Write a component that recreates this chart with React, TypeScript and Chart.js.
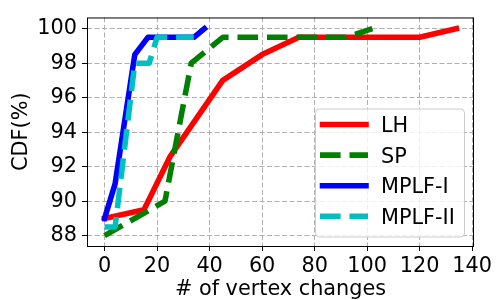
import React, { useEffect, useRef } from "react";
import { Chart, registerables } from "chart.js";

Chart.register(...registerables);

const seriesNames = ["LH", "SP", "MPLF-I", "MPLF-II"];
const seriesColors = ["#ff0000", "#008000", "#0000ff", "#00bfbf"];
const seriesDashed = [false, true, false, true];

const lhX = [0, 15, 25, 45, 60, 74, 120, 134];
const lhY = [89, 89.5, 92.6, 97, 98.5, 99.5, 99.5, 100];
const spX = [0, 23, 33, 45, 92, 102];
const spY = [88, 90, 98, 99.5, 99.5, 100];
const mplf1X = [0, 4, 11.5, 16.5, 34, 38];
const mplf1Y = [89, 91, 98.5, 99.5, 99.5, 100];
const mplf2X = [0, 4, 11.5, 17, 20, 34];
const mplf2Y = [88.5, 88.5, 98, 98, 99.5, 99.5];

const xTickStep = 20;
const yTickStep = 2;
const xTitle = "# of vertex changes";
const yTitle = "CDF(%)";

const FONT = "'DejaVu Sans', sans-serif";
const FS = 20.8;
const LW = 5.56;
const DASH = [20.6, 8.9];

const toPts = (xs: number[], ys: number[]) => xs.map((x, i) => ({ x, y: ys[i] }));

const frameAndLegend = {
  id: "frameAndLegend",
  afterDraw(chart: any) {
    const { ctx, chartArea: a } = chart;
    ctx.save();
    ctx.strokeStyle = "#000";
    ctx.lineWidth = 1;
    ctx.strokeRect(a.left + 0.5, a.top + 0.5, a.right - a.left - 1, a.bottom - a.top);
    // legend
    const lx = 315, ly = 108.5, lw = 149, lh = 128;
    ctx.beginPath();
    ctx.roundRect(lx + 0.5, ly + 0.5, lw, lh, 4);
    ctx.fillStyle = "rgba(255,255,255,0.8)";
    ctx.fill();
    ctx.strokeStyle = "#cccccc";
    ctx.lineWidth = 1;
    ctx.stroke();
    seriesNames.forEach((name, i) => {
      const y = 124.5 + i * 30.6;
      ctx.strokeStyle = seriesColors[i];
      ctx.lineWidth = LW;
      ctx.beginPath();
      if (seriesDashed[i]) {
        ctx.setLineDash(DASH);
        ctx.lineCap = "butt";
        ctx.moveTo(320, y);
        ctx.lineTo(368, y);
      } else {
        ctx.setLineDash([]);
        ctx.lineCap = "square";
        ctx.moveTo(322.5, y);
        ctx.lineTo(366, y);
      }
      ctx.stroke();
      ctx.setLineDash([]);
      ctx.fillStyle = "#000";
      ctx.font = `${FS}px ${FONT}`;
      ctx.textBaseline = "alphabetic";
      ctx.textAlign = "left";
      ctx.fillText(name, 381, y + 7.6);
    });
    ctx.restore();
  },
};

export default function App() {
  const ref = useRef<HTMLCanvasElement>(null);
  useEffect(() => {
    if (!ref.current) return;
    const data = [toPts(lhX, lhY), toPts(spX, spY), toPts(mplf1X, mplf1Y), toPts(mplf2X, mplf2Y)];
    const chart = new Chart(ref.current, {
      type: "scatter",
      data: {
        datasets: seriesNames.map((name, i) => ({
          label: name,
          data: data[i],
          showLine: true,
          borderColor: seriesColors[i],
          backgroundColor: seriesColors[i],
          borderWidth: LW,
          borderDash: seriesDashed[i] ? DASH : [],
          borderCapStyle: seriesDashed[i] ? "butt" : "square",
          borderJoinStyle: "round",
          pointRadius: 0,
          pointHoverRadius: 0,
          order: 3 - i,
        })),
      },
      options: {
        animation: false,
        responsive: false,
        events: [],
        layout: { padding: { left: 0, top: 17, right: 26, bottom: 0 } },
        plugins: { legend: { display: false }, tooltip: { enabled: false } },
        scales: {
          x: {
            type: "linear",
            min: -6.7,
            max: 140.7,
            afterFit: (s: any) => { s.height = 54; },
            ticks: { stepSize: xTickStep, includeBounds: false, color: "#000", padding: 3, font: { family: FONT, size: FS }, maxRotation: 0 },
            grid: { color: "#b0b0b0", lineWidth: 1, tickLength: 5, tickColor: "#000", tickWidth: 1, tickBorderDash: [] },
            border: { display: false, dash: [5, 2.5] },
            title: { display: true, text: xTitle, color: "#000", font: { family: FONT, size: FS, lineHeight: 1 }, padding: 0 },
          },
          y: {
            type: "linear",
            min: 87.4,
            max: 100.65,
            afterFit: (s: any) => { s.width = 87; },
            ticks: { stepSize: yTickStep, includeBounds: false, color: "#000", padding: 5, font: { family: FONT, size: FS } },
            grid: { color: "#b0b0b0", lineWidth: 1, tickLength: 5, tickColor: "#000", tickWidth: 1, tickBorderDash: [] },
            border: { display: false, dash: [5, 2.5] },
            title: { display: true, text: yTitle, color: "#000", font: { family: FONT, size: FS, lineHeight: 1.2 }, padding: { top: 9, bottom: 0 } },
          },
        },
      },
      plugins: [frameAndLegend],
    } as any);
    return () => chart.destroy();
  }, []);
  return (
    <div style={{ position: "absolute", left: 0, top: 0, width: 500, height: 300, background: "#fff" }}>
      <canvas ref={ref} width={500} height={300} style={{ width: 500, height: 300, display: "block" }} />
    </div>
  );
}
